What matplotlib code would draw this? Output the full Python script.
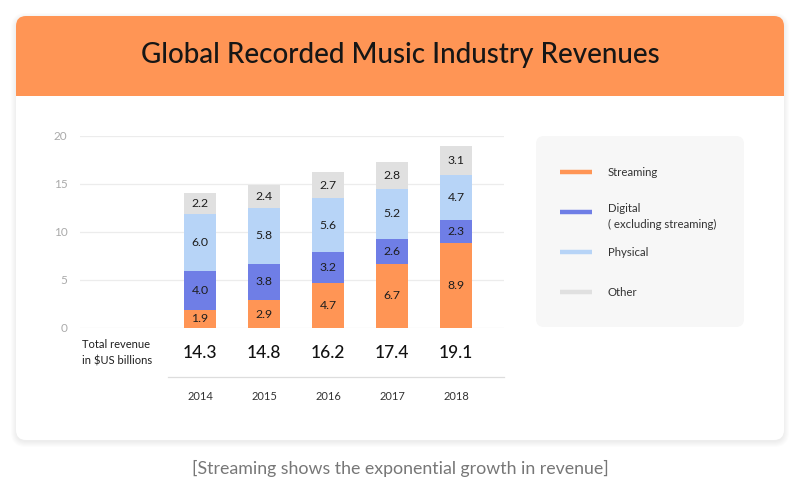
import matplotlib
matplotlib.use("Agg")
import matplotlib.pyplot as plt
import numpy as np
from matplotlib.patches import FancyBboxPatch, Rectangle

plt.rcParams['font.family'] = ['Lato', 'DejaVu Sans']

years = ['2014', '2015', '2016', '2017', '2018']
streaming = [1.9, 2.9, 4.7, 6.7, 8.9]
digital = [4.0, 3.8, 3.2, 2.6, 2.3]
physical = [6.0, 5.8, 5.6, 5.2, 4.7]
other = [2.2, 2.4, 2.7, 2.8, 3.1]
totals = ['14.3', '14.8', '16.2', '17.4', '19.1']

series_names = ['Streaming', 'Digital\n( excluding streaming)', 'Physical', 'Other']
series_colors = ['#ff9555', '#6f7ee6', '#b7d4f7', '#e0e0e0']

title = 'Global Recorded Music Industry Revenues'
caption = '[Streaming shows the exponential growth in revenue]'

fig = plt.figure(figsize=(8, 4.97), dpi=100)
fig.patch.set_facecolor('white')

# background layer in pixel coordinates
bg = fig.add_axes([0, 0, 1, 1])
bg.set_xlim(0, 800)
bg.set_ylim(497, 0)
bg.axis('off')

# soft shadow around the card
for i in range(6):
    bg.add_patch(FancyBboxPatch((16 - i, 18 - i), 768 + 2 * i, 424 + 2 * i,
                                boxstyle="round,pad=0,rounding_size=%d" % (10 + i),
                                facecolor='#000000', edgecolor='none', alpha=0.012))
bg.add_patch(FancyBboxPatch((16, 16), 768, 424, boxstyle="round,pad=0,rounding_size=10",
                            facecolor='white', edgecolor='none'))
bg.add_patch(FancyBboxPatch((16, 16), 768, 92, boxstyle="round,pad=0,rounding_size=10",
                            facecolor='#ff9555', edgecolor='none'))
bg.add_patch(Rectangle((16, 96), 768, 20, facecolor='white', edgecolor='none'))
bg.text(400, 55, title, ha='center', va='center', fontsize=20, color='#161616',
        fontweight='medium')

# legend panel
bg.add_patch(FancyBboxPatch((536, 136), 208, 191, boxstyle="round,pad=0,rounding_size=8",
                            facecolor='#f7f7f7', edgecolor='none'))
legend_rows = [172, 212, 252, 292]
for name, color, y in zip(series_names, series_colors, legend_rows):
    bg.plot([560, 592], [y, y], color=color, lw=3.2, solid_capstyle='butt')
    if '\n' in name:
        first, second = name.split('\n')
        bg.text(608, y - 3, first, ha='left', va='center', fontsize=8.2, color='#333333')
        bg.text(608, y + 12, second, ha='left', va='center', fontsize=8.2, color='#333333')
    else:
        bg.text(608, y, name, ha='left', va='center', fontsize=8.2, color='#333333')

bg.text(400, 468, caption, ha='center', va='center', fontsize=12.8, color='#777777')

# bar chart
ax = fig.add_axes([80 / 800, (497 - 328) / 497, 424 / 800, 192 / 497])
ax.set_facecolor('none')
x = np.arange(len(years))
ax.set_xlim(-1.875, 4.75)
ax.set_ylim(0, 20)
ax.set_yticks([0, 5, 10, 15, 20])
ax.yaxis.grid(True, color='#ececec', lw=0.9)
ax.set_axisbelow(True)
for spine in ax.spines.values():
    spine.set_visible(False)
ax.tick_params(axis='y', length=0, pad=9, labelcolor='#aaaaaa', labelsize=8.5)
ax.set_xticks([])

bottom = np.zeros(len(years))
for values, color in zip([streaming, digital, physical, other], series_colors):
    vals = np.array(values)
    ax.bar(x, vals, 0.5, bottom=bottom, color=color, edgecolor='none')
    for xi, b, v in zip(x, bottom, vals):
        ax.text(xi, b + v / 2, '%.1f' % v, ha='center', va='center', fontsize=8.8, color='#1e1e1e')
    bottom += vals

# totals row, separator and year labels
ax.text(-1.84, -2.6, 'Total revenue\nin \\$US billions', ha='left', va='center',
        fontsize=8, color='#1e1e1e', linespacing=1.6, clip_on=False)
for xi, t, yr in zip(x, totals, years):
    ax.text(xi, -2.6, t, ha='center', va='center', fontsize=12.5, color='#111111',
            fontweight='medium', clip_on=False)
    ax.text(xi, -7.1, yr, ha='center', va='center', fontsize=8, color='#333333', clip_on=False)
ax.plot([-0.5, 4.75], [-5.1, -5.1], color='#dddddd', lw=0.9, clip_on=False)

fig.savefig('out.png', dpi=100, facecolor='white')
